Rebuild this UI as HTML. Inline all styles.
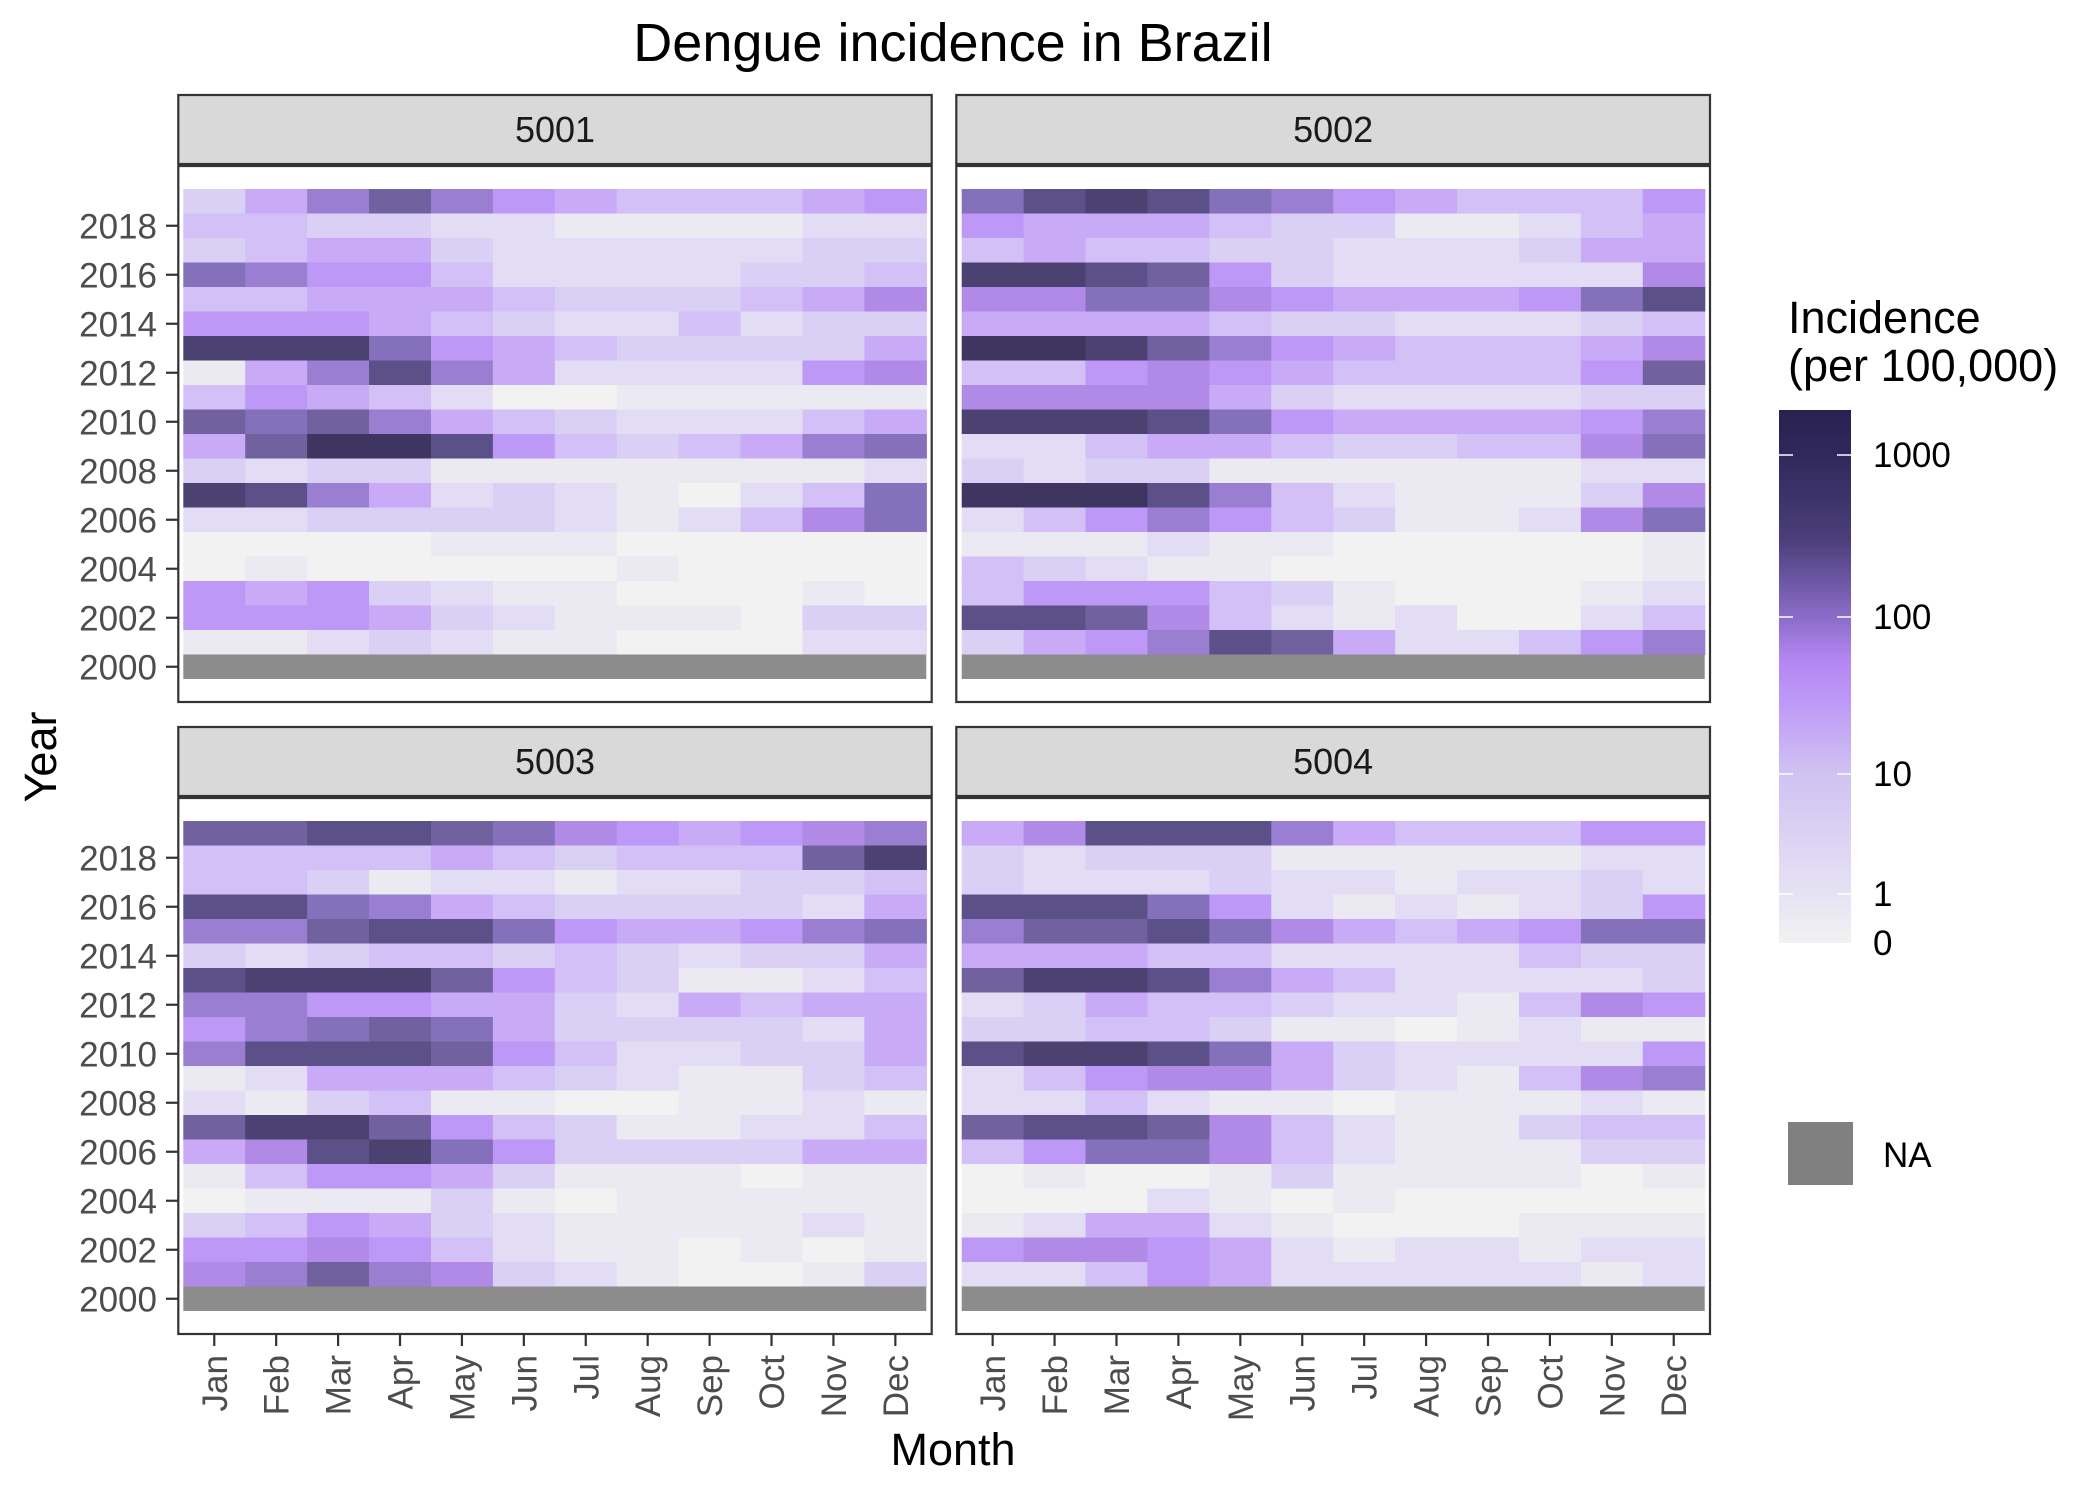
<!DOCTYPE html>
<html><head><meta charset="utf-8"><style>
html,body{margin:0;padding:0;background:#fff;}
svg{display:block;font-family:"Liberation Sans",Arial,sans-serif;}
</style></head><body>
<svg id="s" width="2100" height="1500" viewBox="0 0 2100 1500" xmlns="http://www.w3.org/2000/svg">
<defs>
<linearGradient id="cb" x1="0" y1="0" x2="0" y2="1">
<stop offset="0" stop-color="#2a2050"/>
<stop offset="0.084" stop-color="#30285c"/>
<stop offset="0.24" stop-color="#4a3e78"/>
<stop offset="0.388" stop-color="#8a6cc8"/>
<stop offset="0.468" stop-color="#b486f2"/>
<stop offset="0.543" stop-color="#bc98f6"/>
<stop offset="0.682" stop-color="#d0c2f2"/>
<stop offset="0.907" stop-color="#e6e2f4"/>
<stop offset="1" stop-color="#f2f2f2"/>
</linearGradient>
</defs>
<text x="953" y="61" font-size="54" text-anchor="middle" fill="#000">Dengue incidence in Brazil</text>
<g id="cells"></g>
<g id="frames" fill="none" stroke="#333" stroke-width="2.2"></g>
<g id="labels" fill="#4d4d4d" font-size="35"></g>
<text x="953" y="1465" font-size="45" text-anchor="middle" fill="#000">Month</text>
<text transform="translate(56,757) rotate(-90)" font-size="45" text-anchor="middle" fill="#000">Year</text>
<text x="1788" y="333" font-size="45" fill="#000">Incidence</text>
<text x="1788" y="381" font-size="45" fill="#000">(per 100,000)</text>
<rect x="1779" y="410" width="72" height="533" fill="url(#cb)"/>
<g stroke="#fff" stroke-width="1.5">
<line x1="1779" y1="455" x2="1793" y2="455"/><line x1="1837" y1="455" x2="1851" y2="455"/>
<line x1="1779" y1="617" x2="1793" y2="617"/><line x1="1837" y1="617" x2="1851" y2="617"/>
<line x1="1779" y1="774" x2="1793" y2="774"/><line x1="1837" y1="774" x2="1851" y2="774"/>
<line x1="1779" y1="894" x2="1793" y2="894"/><line x1="1837" y1="894" x2="1851" y2="894"/>
</g>
<g font-size="35" fill="#000">
<text x="1873" y="467">1000</text>
<text x="1873" y="629">100</text>
<text x="1873" y="786">10</text>
<text x="1873" y="906">1</text>
<text x="1873" y="955">0</text>
<text x="1883" y="1167">NA</text>
</g>
<rect x="1788" y="1122" width="65" height="63" fill="#808080"/>
</svg>
<script>
var pal={'0':'#f2f2f2','1':'#ebe9f2','2':'#e2ddf4','3':'#dad0f5','4':'#d2c0f6','5':'#c8aaf7','6':'#be98f6','7':'#b08ae6','8':'#9a7ed2','9':'#8470bb','a':'#72619f','b':'#5c5088','c':'#4c4272','d':'#3e3660'};
var D=[
["358a86544456","443322111122","345532222233","986642222334","445554333457","666543224233","ccc965433335","158b85222267","465420011111","a9a854322245","5addb6434589","323311111112","cb8523210249","223333212479","000011100000","010000010000","656321100010","666532111033","112321100022"],
["9bcb98654446","655543311245","454433222355","ccba63222227","77997655569b","555543322234","ddca86544457","44676544446a","777753222233","cccb96555568","224554334479","323311111122","dddb84211137","246864311279","111211000001","432110000001","466643100012","bba742120024","3568ba522468"],
["aabba9765678","4444543444ac","443122122334","bb9854333325","88abb9655689","323443432335","bccca6431124","886655325455","689a95333325","8bbba6422335","125554321134","213411001121","acca64311224","57bc96333355","146653111011","011131011111","346532111121","667642110101","78a873210013"],
["57bbb8544466","323331111122","322232212232","bbb962121236","8aab97545699","555442222433","accb85422223","235443221476","334431101211","bccb95322226","246775321478","224211011121","abba74211344","469974211133","010013111101","000210100000","125521000111","677652122122","224652222212"]
];
var ns="http://www.w3.org/2000/svg";
var cells=document.getElementById('cells'),fr=document.getElementById('frames'),lb=document.getElementById('labels');
function el(t,a,p,txt){var e=document.createElementNS(ns,t);for(var k in a)e.setAttribute(k,a[k]);if(txt)e.textContent=txt;p.appendChild(e);return e;}
var PXL=[178.3,956.3],PXR=[931.7,1710],CX=[183.3,961.7];
var OFF=[0,632];
var names=['5001','5002','5003','5004'];
var months=['Jan','Feb','Mar','Apr','May','Jun','Jul','Aug','Sep','Oct','Nov','Dec'];
var cw=(926.3-183.3)/12,rh=24.5;
for(var p=0;p<4;p++){
 var c=p%2,r=Math.floor(p/2),o=OFF[r];
 var x0=CX[c],y0=189+o;
 for(var i=0;i<19;i++){
  var row=D[p][i];
  for(var j=0;j<12;j++){
   var ch=row.charAt(j)||'2';
   el('rect',{x:x0+j*cw,y:y0+i*rh,width:cw+0.6,height:rh+0.6,fill:pal[ch]||'#e2ddf4'},cells);
  }
 }
 el('rect',{x:x0,y:y0+19*rh,width:12*cw,height:rh,fill:'#8c8c8c'},cells);
 var w=PXR[c]-PXL[c];
 el('rect',{x:PXL[c],y:95+o,width:w,height:69,fill:'#d9d9d9',stroke:'#333','stroke-width':2.2},cells);
 el('text',{x:PXL[c]+w/2,y:142+o,'font-size':36,'text-anchor':'middle',fill:'#1a1a1a'},cells,names[p]);
 el('rect',{x:PXL[c],y:166+o,width:w,height:536},fr);
 if(c==0){
  for(var yr=2000;yr<=2018;yr+=2){
   var yc=y0+(2019-yr)*rh+rh/2;
   el('line',{x1:166,y1:yc,x2:178,y2:yc,stroke:'#333','stroke-width':2.2},lb);
   el('text',{x:157,y:yc+12.5,'text-anchor':'end'},lb,String(yr));
  }
 }
 if(r==1){
  for(var j=0;j<12;j++){
   var xc=x0+j*cw+cw/2;
   el('line',{x1:xc,y1:1334,x2:xc,y2:1346,stroke:'#333','stroke-width':2.2},lb);
   el('text',{transform:'translate('+(xc+12.5)+',1355) rotate(-90)','text-anchor':'end'},lb,months[j]);
  }
 }
}
</script>
</body></html>
